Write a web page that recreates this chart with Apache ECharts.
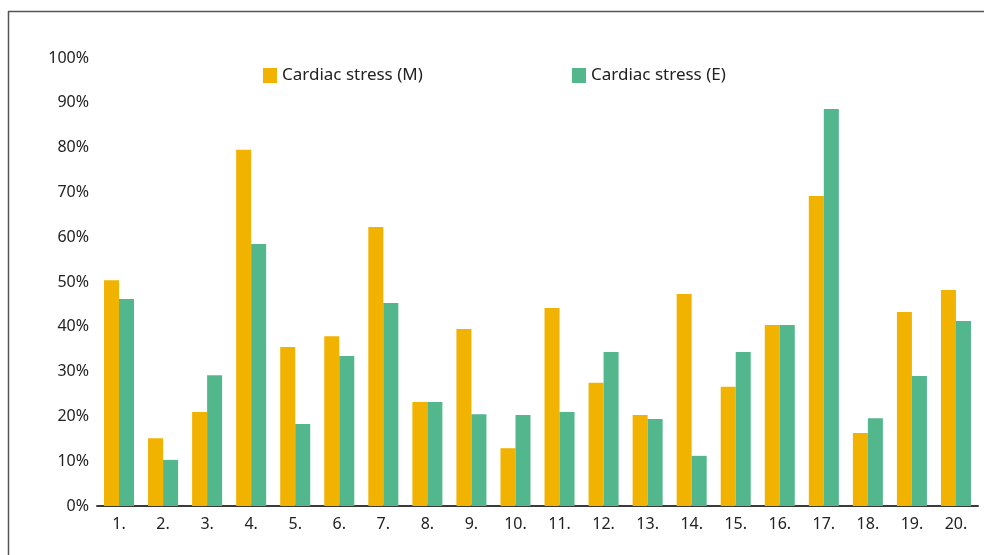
<!DOCTYPE html>
<html>
<head>
<meta charset="utf-8">
<script src="https://cdn.jsdelivr.net/npm/echarts@6/dist/echarts.min.js"></script>
<style>
  html, body { margin: 0; padding: 0; background: #fff; }
  #chart { width: 984px; height: 555px; }
</style>
</head>
<body>
<div id="chart"></div>
<script>
// data
const categories = ['1.', '2.', '3.', '4.', '5.', '6.', '7.', '8.', '9.', '10.',
  '11.', '12.', '13.', '14.', '15.', '16.', '17.', '18.', '19.', '20.']
const stressM = [50.4, 15.1, 21, 79.5, 35.5, 37.9, 62.3, 23.2, 39.5, 12.9,
  44.2, 27.5, 20.3, 47.3, 26.6, 40.4, 69.2, 16.3, 43.3, 48.2]
const stressE = [46.2, 10.3, 29.2, 58.5, 18.3, 33.5, 45.3, 23.2, 20.5, 20.3,
  21, 34.4, 19.4, 11.2, 34.4, 40.4, 88.6, 19.6, 29, 41.3]
const seriesNames = ['Cardiac stress (M)', 'Cardiac stress (E)']

const chart = echarts.init(document.getElementById('chart'))

const textStyle = { color: '#222', fontSize: 17, fontFamily: 'Noto Sans' }

chart.setOption({
  animation: false,
  textStyle: { fontFamily: 'Noto Sans' },
  // frame round the figure (left and top edges only are visible)
  graphic: [
    { type: 'line', shape: { x1: 8.5, y1: 11, x2: 8.5, y2: 555 }, style: { stroke: '#555', lineWidth: 1.5 } },
    { type: 'line', shape: { x1: 8, y1: 11.5, x2: 984, y2: 11.5 }, style: { stroke: '#555', lineWidth: 1.5 } }
  ],
  legend: [
    {
      data: [seriesNames[0]],
      left: 263, top: 67, padding: 0,
      icon: 'rect', itemWidth: 14, itemHeight: 15, itemGap: 0,
      textStyle: textStyle
    },
    {
      data: [seriesNames[1]],
      left: 572, top: 67, padding: 0,
      icon: 'rect', itemWidth: 14, itemHeight: 15, itemGap: 0,
      textStyle: textStyle
    }
  ],
  grid: { left: 97, right: 6, top: 58, bottom: 49 },
  xAxis: {
    type: 'category',
    data: categories,
    axisLine: { lineStyle: { color: '#3a3a3a', width: 2 } },
    axisTick: { show: false },
    axisLabel: { color: '#222', fontSize: 16, margin: 10 }
  },
  yAxis: {
    type: 'value',
    min: 0, max: 100, interval: 10,
    axisLine: { show: false },
    axisTick: { show: false },
    splitLine: { show: false },
    axisLabel: { color: '#222', fontSize: 16, margin: 8, formatter: '{value}%' }
  },
  series: [
    {
      name: seriesNames[0],
      type: 'bar',
      data: stressM,
      barWidth: 15,
      barGap: '0%',
      itemStyle: { color: '#f2b200' }
    },
    {
      name: seriesNames[1],
      type: 'bar',
      data: stressE,
      barWidth: 15,
      itemStyle: { color: '#52b78c' }
    }
  ]
})
</script>
</body>
</html>
